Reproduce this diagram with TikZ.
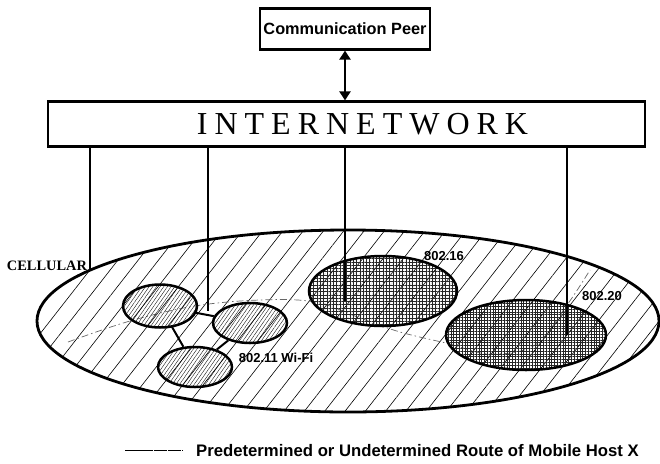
\documentclass[tikz,border=0pt]{standalone}
\usepackage{fontspec}
\setmainfont{Liberation Serif}
\setsansfont{Liberation Sans}
\usetikzlibrary{shapes.geometric,arrows.meta,patterns.meta}
\newcommand{\lsp}{\hspace{7pt}}
\begin{document}
\begin{tikzpicture}[x=1pt,y=-1pt,
  boxnode/.style={draw, line width=2.2pt, inner sep=0pt},
  net/.style={draw, ellipse, line width=2.5pt, inner sep=0pt},
  lbl/.style={font=\sffamily\bfseries\fontsize{13}{15}\selectfont, inner sep=0pt},
  link/.style={line width=2pt},
  drop/.style={line width=1.8pt},
  route/.style={black!60, line width=0.7pt, dash pattern=on 7pt off 3pt on 1.5pt off 3pt},
  bighatch/.style={pattern={Lines[angle=52,distance=16pt,line width=0.6pt]}},
  wifihatch/.style={pattern={Lines[angle=55,distance=3pt,line width=0.35pt]}},
  bothtips/.style={{Triangle[width=11pt,length=9pt]}-{Triangle[width=11pt,length=9pt]}}
]
\useasboundingbox (0,0) rectangle (660,463);

% Communication peer and internetwork
\node[boxnode, minimum width=170pt, minimum height=41pt,
      font=\sffamily\bfseries\fontsize{16.3}{18}\selectfont] (peer) at (345,29) {Communication Peer};
\node[boxnode, minimum width=597pt, minimum height=45pt,
      font=\fontsize{32}{34}\selectfont] (inet) at (346.5,124)
  {\hspace*{32pt}I\lsp N\lsp T\lsp E\lsp R\lsp N\lsp E\lsp T\lsp W\lsp O\lsp R\lsp K};
\draw[line width=2.5pt, bothtips] (peer.south) -- (inet.north -| peer.south);

% Cellular area
\node[net, line width=2.8pt, minimum width=622pt, minimum height=182pt, bighatch] (cell) at (348,321) {};
\node[font=\bfseries\fontsize{14.4}{16}\selectfont, inner sep=0pt] (celllbl) at (47,266) {CELLULAR};

% route of mobile host
\draw[route] plot[smooth, tension=0.6] coordinates {(68,342) (130,321) (195,306) (260,300) (315,302) (360,318) (400,332) (450,344) (490,354) (535,345) (567,305) (590,270)};

% WiFi cells
\node[net, minimum width=74pt, minimum height=43pt, wifihatch] (wa) at (160,306) {};
\node[net, minimum width=74pt, minimum height=40pt, wifihatch] (wb) at (250,323) {};
\node[net, minimum width=74pt, minimum height=40pt, wifihatch] (wc) at (195,367) {};
\draw[link] (wa) -- (wb);
\draw[link] (wa) -- (wc);
\draw[link] (wb) -- (wc);
\node[lbl] (wifilbl) at (276,358) {802.11 Wi-Fi};

% 802.16 cell
\node[net, minimum width=148pt, minimum height=70pt,
      pattern color=black!85,
      pattern={Lines[angle=0,distance=3.3pt,line width=0.22pt]},
      preaction={pattern color=black!85, pattern={Lines[angle=90,distance=3.3pt,line width=0.22pt]}},
      preaction={pattern color=black!85, pattern={Lines[angle=50,distance=4pt,line width=0.22pt]}}] (w16) at (383,291) {};
\node[lbl] (l16) at (444,256) {802.16};

% 802.20 cell
\node[net, minimum width=160pt, minimum height=70pt,
      pattern color=black!85,
      pattern={Lines[angle=0,distance=2.8pt,line width=0.22pt]},
      preaction={pattern color=black!85, pattern={Lines[angle=90,distance=2.8pt,line width=0.22pt]}}] (w20) at (526,335) {};
\node[lbl] (l20) at (602,296) {802.20};

% drops from the internetwork
\coordinate (d1) at (90,269);
\coordinate (d2) at (208,311);
\coordinate (d3) at (345,301);
\coordinate (d4) at (567,335);
\draw[drop] (inet.south -| d1) -- (d1);
\draw[drop] (inet.south -| d2) -- (d2);
\draw[drop] (inet.south -| d3) -- (d3);
\draw[drop] (inet.south -| d4) -- (d4);

% legend
\coordinate (lg1) at (125,450);
\coordinate (lg2) at (183,450);
\draw[line width=0.9pt, dash pattern=on 13.5pt off 0.8pt] (lg1) -- (lg2);
\node[font=\sffamily\bfseries\fontsize{16.7}{19}\selectfont, anchor=west, inner sep=0pt] (legend) at (196,451)
  {Predetermined or Undetermined Route of Mobile Host X};
\end{tikzpicture}
\end{document}
